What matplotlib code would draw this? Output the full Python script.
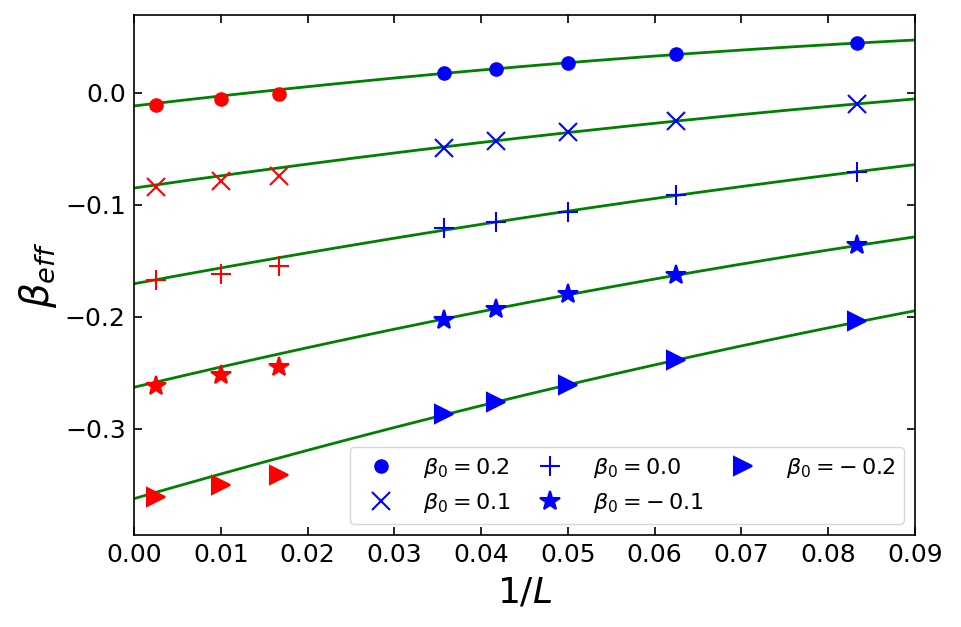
import numpy as np
import matplotlib
matplotlib.use('Agg')
from matplotlib import pyplot

# 1/L values
x_small = [1 / 28, 1 / 24, 1 / 20, 1 / 16, 1 / 12]
x_large = [1 / 400, 1 / 100, 1 / 60]

beta0 = ['0.2', '0.1', '0.0', '-\\:0.1', '-\\:0.2']
markers = ['o', 'x', '+', '*', '>']
msizes = [9, 13, 15, 15, 13]

b_small = [
    [0.0179, 0.0214, 0.0268, 0.0348, 0.0446],
    [-0.049, -0.043, -0.035, -0.025, -0.0098],
    [-0.121, -0.115, -0.106, -0.091, -0.0705],
    [-0.2027, -0.193, -0.180, -0.1625, -0.1357],
    [-0.2866, -0.276, -0.2607, -0.239, -0.2036],
]
b_large = [
    [-0.0107, -0.0054, -0.0009],
    [-0.084, -0.0786, -0.074],
    [-0.167, -0.1616, -0.155],
    [-0.2616, -0.2518, -0.2446],
    [-0.3607, -0.350, -0.341],
]

# fit coefficients a + b*x + c*x^2
fit_a = [-0.0116, -0.085, -0.1705, -0.263, -0.3625]
fit_b = [0.919, 1.125, 1.443, 1.849, 2.245]
fit_c = [-2.94, -2.67, -2.89, -3.95, -4.22]


def Plot():

    fig = pyplot.figure(figsize=(9.61, 6.27), dpi=100)
    ax = fig.add_axes([0.1394, 0.1467, 0.8127, 0.8293])

    xx = np.linspace(0, 0.09, 200)
    for i in range(len(beta0)):
        ax.plot(xx, fit_a[i] + fit_b[i] * xx + fit_c[i] * xx ** 2,
                color='green', lw=2, zorder=1)

    for i in range(len(beta0)):
        lab = r'$\beta_0=%s$' % beta0[i]
        ax.plot(x_small, b_small[i], ls='none', marker=markers[i],
                ms=msizes[i], color='blue', mew=1.5, label=lab, zorder=2)
        ax.plot(x_large, b_large[i], ls='none', marker=markers[i],
                ms=msizes[i], color='red', mew=1.5, zorder=2)

    ax.set_xlim(0, 0.09)
    ax.set_ylim(-0.395, 0.0696)
    ax.set_xticks(np.arange(0, 0.0901, 0.01))
    ax.set_yticks([-0.3, -0.2, -0.1, 0.0])
    ax.tick_params(direction='in', top=True, right=True, length=6,
                   width=1.2, labelsize=18, pad=6)
    for s in ax.spines.values():
        s.set_linewidth(1.2)
    ax.set_xlabel(r'$1/L$', fontsize=26, labelpad=6)
    ax.set_ylabel(r'$\beta_{eff}$', fontsize=28)
    ax.legend(loc='lower right', ncol=3, fontsize=16, handletextpad=0.9,
              columnspacing=0.8)

    fig.savefig('out.png', dpi=100)

    fig.clf()


if __name__ == "__main__":
    Plot()
